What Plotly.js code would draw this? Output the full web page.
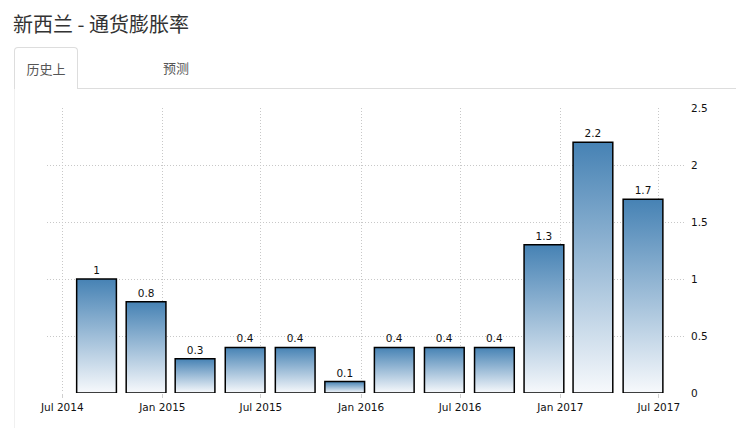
<!DOCTYPE html>
<html>
<head>
<meta charset="utf-8">
<script src="https://cdn.plot.ly/plotly-3.0.1.min.js"></script>
<style>
    html, body { margin: 0; padding: 0; background: #fff; }
    body { width: 736px; height: 428px; position: relative; overflow: hidden;
           font-family: "Noto Sans CJK SC", "Noto Sans", sans-serif; }
    #title { position: absolute; left: 13px; top: 9px; font-size: 20px; color: #333; line-height: 30px; }
    #tabline { position: absolute; left: 77px; right: 0; top: 88px; border-top: 1px solid #ddd; }
    #tab1 { position: absolute; left: 14px; top: 47px; width: 62px; height: 41px; border: 1px solid #ddd;
            border-bottom: none; border-radius: 4px 4px 0 0; background: #fff;
            font-size: 13px; color: #555; line-height: 41px; text-align: center; }
    #tab2 { position: absolute; left: 140px; top: 47px; width: 72px; height: 41px;
            font-size: 13px; color: #555; line-height: 41px; text-align: center; }
    #leftline { position: absolute; left: 14px; top: 89px; bottom: 0; border-left: 1px solid #f0f0f0; }
    #chart { position: absolute; left: 0; top: 0; width: 736px; height: 428px; }
</style>
</head>
<body>
<div id="chart"></div>
<div id="title">新西兰 - 通货膨胀率</div>
<div id="tabline"></div>
<div id="leftline"></div>
<div id="tab1">历史上</div>
<div id="tab2">预测</div>
<script>
var dates = ['2014-09-02', '2014-12-02', '2015-03-02', '2015-06-02', '2015-09-02', '2015-12-02',
             '2016-03-02', '2016-06-02', '2016-09-02', '2016-12-02', '2017-03-02', '2017-06-02'];
var values = [1, 0.8, 0.3, 0.4, 0.4, 0.1, 0.4, 0.4, 0.4, 1.3, 2.2, 1.7];
var tickDates = ['2014-07-01', '2015-01-01', '2015-07-01', '2016-01-01', '2016-07-01', '2017-01-01', '2017-07-01'];
var tickLabels = ['Jul 2014', 'Jan 2015', 'Jul 2015', 'Jan 2016', 'Jul 2016', 'Jan 2017', 'Jul 2017'];
var yTicks = [0, 0.5, 1, 1.5, 2, 2.5];

var DAY = 86400000;

var traces = [{
    x: dates,
    y: values,
    type: 'bar',
    width: 73 * DAY,
    text: values.map(String),
    textposition: 'outside',
    textfont: { family: 'DejaVu Sans', size: 10.5, color: '#111' },
    cliponaxis: false,
    marker: {
        color: '#7fa6c9',
        line: { color: '#000', width: 1.5 }
    },
    hoverinfo: 'x+y'
}];

var layout = {
    width: 736,
    height: 428,
    margin: { l: 47, r: 50, t: 108, b: 35 },
    paper_bgcolor: 'rgba(0,0,0,0)',
    plot_bgcolor: 'rgba(0,0,0,0)',
    showlegend: false,
    font: { family: 'DejaVu Sans', size: 10.5, color: '#222' },
    xaxis: {
        type: 'date',
        range: ['2014-06-03', '2017-08-20'],
        tickvals: tickDates,
        ticktext: tickLabels,
        showgrid: true,
        gridcolor: '#c8c8c8',
        griddash: '1px,2px',
        gridwidth: 1,
        ticks: 'outside',
        ticklen: 4,
        tickcolor: '#cfcfcf',
        zeroline: false,
        showline: false,
        tickfont: { family: 'DejaVu Sans', size: 10.5, color: '#111' }
    },
    yaxis: {
        side: 'right',
        range: [0, 2.5],
        tickvals: yTicks,
        ticktext: yTicks.map(String),
        showgrid: true,
        gridcolor: '#c8c8c8',
        griddash: '1px,2px',
        gridwidth: 1,
        zeroline: false,
        showline: false,
        ticks: '',
        ticklabelstandoff: 4,
        tickfont: { family: 'DejaVu Sans', size: 10.5, color: '#111' }
    },
    bargap: 0
};

Plotly.newPlot('chart', traces, layout, { displayModeBar: false, staticPlot: true }).then(function (gd) {
    // vertical gradient fill for the bars
    var svg = gd.querySelector('svg.main-svg');
    var ns = 'http://www.w3.org/2000/svg';
    var defs = svg.querySelector('defs') || svg.insertBefore(document.createElementNS(ns, 'defs'), svg.firstChild);
    var grad = document.createElementNS(ns, 'linearGradient');
    grad.setAttribute('id', 'barGrad');
    grad.setAttribute('x1', '0');
    grad.setAttribute('y1', '0');
    grad.setAttribute('x2', '0');
    grad.setAttribute('y2', '1');
    [['0', '#4682b4'], ['1', '#f7f9fc']].forEach(function (s) {
        var stop = document.createElementNS(ns, 'stop');
        stop.setAttribute('offset', s[0]);
        stop.setAttribute('stop-color', s[1]);
        grad.appendChild(stop);
    });
    defs.appendChild(grad);
    gd.querySelectorAll('.bars .point path').forEach(function (p) {
        p.style.fill = 'url(#barGrad)';
        p.style.fillOpacity = 1;
    });
});
</script>
</body>
</html>
